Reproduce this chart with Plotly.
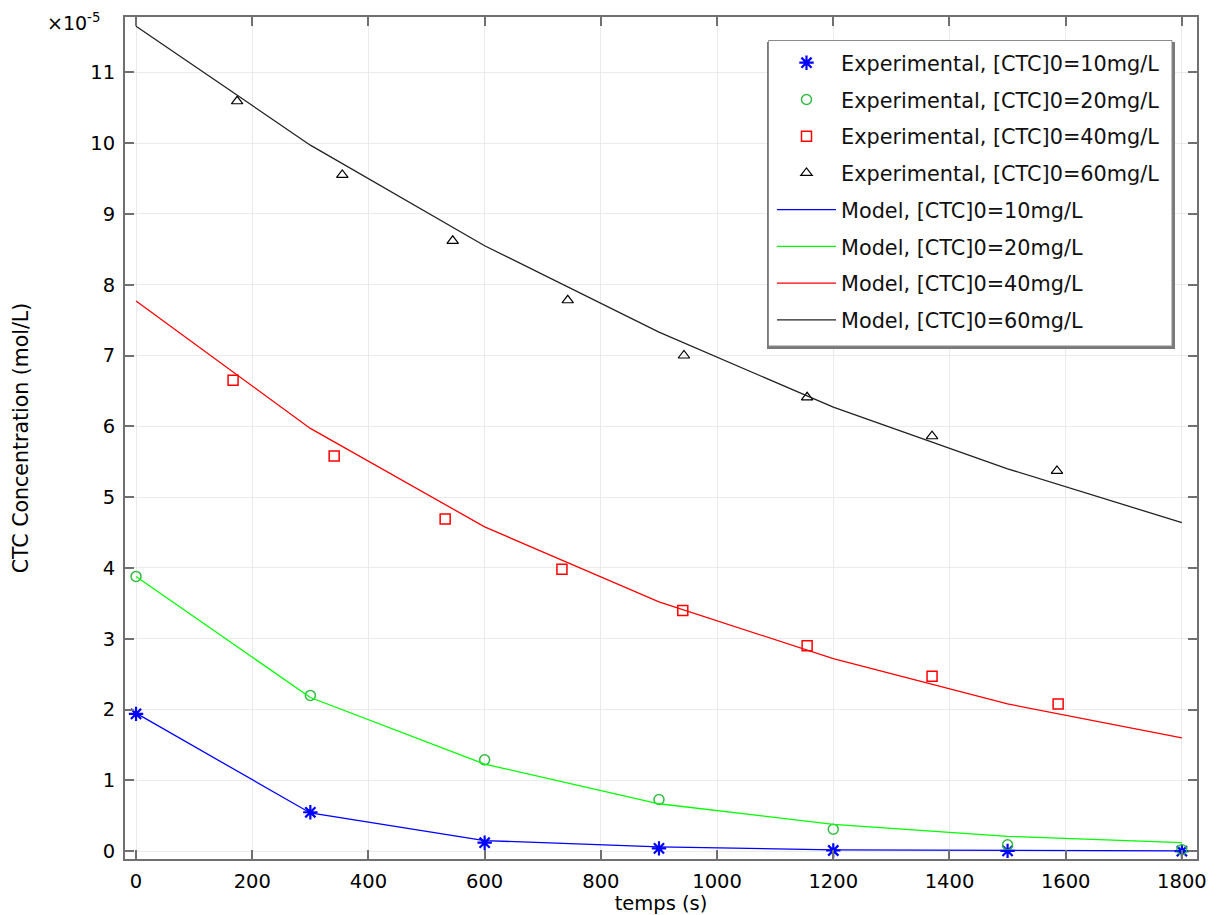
import plotly.graph_objects as go

# time axis (s)
t_model = [0, 300, 600, 900, 1200, 1500, 1800]
t_exp_10 = [0, 300, 600, 900, 1200, 1500, 1800]
t_exp_20 = [0, 300, 600, 900, 1200, 1500, 1800]
t_exp_40 = [167, 341, 532, 733, 941, 1155, 1370, 1587]
t_exp_60 = [174, 355, 545, 743, 943, 1155, 1370, 1585]

# concentrations, units of 1e-5 mol/L
exp_10 = [1.94, 0.55, 0.12, 0.04, 0.01, 0.005, 0.0]
exp_20 = [3.88, 2.20, 1.29, 0.73, 0.31, 0.09, 0.02]
exp_40 = [6.65, 5.58, 4.69, 3.98, 3.40, 2.90, 2.47, 2.08]
exp_60 = [10.59, 9.55, 8.62, 7.78, 7.00, 6.41, 5.86, 5.37]

model_10 = [1.95, 0.54, 0.15, 0.06, 0.02, 0.01, 0.005]
model_20 = [3.88, 2.17, 1.23, 0.67, 0.38, 0.21, 0.12]
model_40 = [7.77, 5.97, 4.58, 3.52, 2.72, 2.08, 1.60]
model_60 = [11.65, 9.97, 8.55, 7.33, 6.27, 5.40, 4.64]

names_exp = ["Experimental, [CTC]0=10mg/L", "Experimental, [CTC]0=20mg/L",
             "Experimental, [CTC]0=40mg/L", "Experimental, [CTC]0=60mg/L"]
names_model = ["Model, [CTC]0=10mg/L", "Model, [CTC]0=20mg/L",
               "Model, [CTC]0=40mg/L", "Model, [CTC]0=60mg/L"]

x_ticks = [0, 200, 400, 600, 800, 1000, 1200, 1400, 1600, 1800]
y_ticks = list(range(0, 12))

FONT = "DejaVu Sans"
fig = go.Figure()

exp_specs = [
    (t_exp_10, exp_10, "asterisk-open", "#0000ff", 12, 2.2),
    (t_exp_20, exp_20, "circle-open", "#33bb44", 10, 1.5),
    (t_exp_40, exp_40, "square-open", "#ff0000", 10, 1.5),
    (t_exp_60, exp_60, "triangle-up-open", "#000000", 10, 1.2),
]
for i, (tx, ty, sym, col, sz, lw) in enumerate(exp_specs):
    fig.add_trace(go.Scatter(
        x=tx, y=ty, mode="markers", name=names_exp[i], legendgroup=f"e{i}",
        marker=dict(symbol=sym, color=col, size=sz, line=dict(color=col, width=lw)),
    ))

model_specs = [
    (model_10, "#0000ff"), (model_20, "#00ff00"),
    (model_40, "#ff0000"), (model_60, "#222222"),
]
for i, (my, col) in enumerate(model_specs):
    fig.add_trace(go.Scatter(
        x=t_model, y=my, mode="lines", name=names_model[i], legendgroup=f"m{i}",
        line=dict(color=col, width=1.3),
    ))

axis_common = dict(
    showgrid=True, gridcolor="#ebebeb", gridwidth=1,
    showline=True, linecolor="#707070", linewidth=2, mirror="ticks",
    ticks="inside", ticklen=9, tickcolor="#707070", tickwidth=1.5,
    zeroline=False, tickfont=dict(family=FONT, size=19.5, color="#000"),
    ticklabelstandoff=4, automargin=False,
)

# plot area in pixels: x 125..1197, y 17..859
def px_x(p):
    return (p - 125) / 1072.0

def px_y(p):
    return (859 - p) / 842.0

fig.update_layout(
    width=1218, height=915,
    margin=dict(l=125, r=21, t=17, b=56),
    paper_bgcolor="white", plot_bgcolor="white",
    font=dict(family=FONT, color="#000"),
    xaxis=dict(range=[-19, 1826], tickvals=x_ticks,
               title=dict(text="temps (s)", font=dict(family=FONT, size=19.5), standoff=2),
               **axis_common),
    yaxis=dict(range=[-0.11, 11.78], tickvals=y_ticks,
               title=dict(text="CTC Concentration (mol/L)", font=dict(family=FONT, size=20.5), standoff=56),
               **axis_common),
    legend=dict(
        x=px_x(772), y=px_y(42.7), xanchor="left", yanchor="top",
        bgcolor="rgba(0,0,0,0)", borderwidth=0,
        font=dict(family=FONT, size=20.8, color="#111"),
        tracegroupgap=6.7, itemwidth=59,
    ),
    showlegend=True,
    shapes=[
        # legend drop shadow
        dict(type="rect", xref="paper", yref="paper", layer="above",
             x0=px_x(767), x1=px_x(1175), y0=px_y(349), y1=px_y(42),
             fillcolor="#7a7a7a", line=dict(width=0)),
        # legend box
        dict(type="rect", xref="paper", yref="paper", layer="above",
             x0=px_x(768.5), x1=px_x(1172), y0=px_y(346), y1=px_y(40.5),
             fillcolor="white", line=dict(color="#8a8a8a", width=1)),
    ],
)

fig.add_annotation(
    text="×10<sup>-5</sup>", xref="paper", yref="paper",
    x=px_x(45), y=px_y(22), xanchor="left", yanchor="middle", showarrow=False,
    font=dict(family=FONT, size=19, color="#000"),
)

fig.write_html("out.html")
